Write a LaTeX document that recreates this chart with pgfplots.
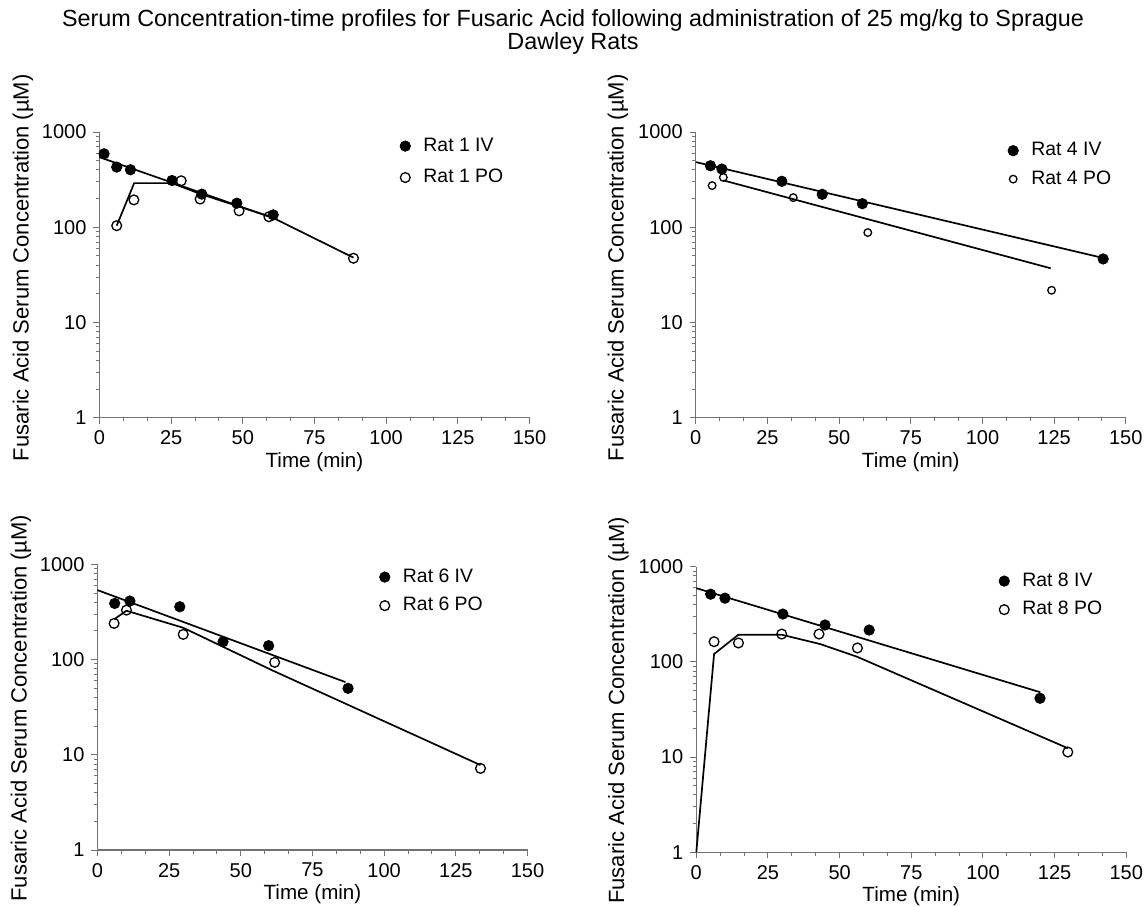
\documentclass[border=0pt]{standalone}
\usepackage{fontspec}
\setmainfont{Liberation Sans}
\usepackage{pgfplots}
\pgfplotsset{compat=1.18}
\definecolor{axisgray}{gray}{0.45}

\pgfplotsset{
  scale only axis, width=215pt, height=142.8pt,
  xmin=0, xmax=150, ymin=1, ymax=1000,
  axis lines=left,
  axis line style={-, draw=axisgray, line width=0.55pt},
  tick align=outside,
  tick style={draw=axisgray, line width=0.5pt},
  major tick length=3pt, minor tick length=1.8pt,
  xtick={0,25,50,75,100,125,150},
  xticklabels={0,25,50,75,100,125,150},
  minor x tick num=2,
  ytick={1,10,100,1000}, yticklabels={1,10,100,1000},
  minor ytick={2,3,4,5,6,7,8,9,20,30,40,50,60,70,80,90,200,300,400,500,600,700,800,900},
  tick label style={font=\fontsize{10}{12}\selectfont, text=black},
  xlabel={Time (min)},
  ylabel={Fusaric Acid Serum Concentration (µM)},
  xlabel style={font=\fontsize{10.3}{12}\selectfont, at={(axis description cs:0.5,0)}, anchor=center, yshift=-22pt},
  legend cell align=left,
  legend style={draw=none, fill=none, inner sep=0pt, outer sep=0pt,
    font=\fontsize{9.7}{11}\selectfont, row sep=3pt, column sep=5pt,
    nodes={inner sep=1.5pt}, anchor=north west},
  clip=false,
}

\begin{document}
\begin{tikzpicture}
\useasboundingbox (0,0) rectangle (573pt,453pt);
\node[font=\fontsize{11.68}{14}\selectfont, anchor=base] at (286.5pt,439.5pt)
  {Serum Concentration-time profiles for Fusaric Acid following administration of 25 mg/kg to Sprague};
\node[font=\fontsize{11.68}{14}\selectfont, anchor=base] at (286.5pt,428pt) {Dawley Rats};

% Panel 1
\begin{semilogyaxis}[at={(49.75pt,244.15pt)}, anchor=south west,
  ylabel style={font=\fontsize{11}{13}\selectfont, at={(axis description cs:-0.178,0.525)}, anchor=center},
  legend style={at={(axis description cs:0.706,0.948)}, xshift=-1.5pt, yshift=6pt, row sep=4.5pt}]
\addplot[no marks, black, line width=0.85pt, forget plot] coordinates {(0,545) (60.6,125)};
\addplot[no marks, black, line width=0.85pt, forget plot] coordinates {(6.0,104) (12.1,291) (25.3,291) (35,225) (49,164) (60,128) (88.6,48)};
\addplot[only marks, mark=*, mark size=2.6pt, black] coordinates {(1.6,591) (6.0,429) (10.8,402) (25.3,310) (35.7,223) (47.9,179) (60.6,135)};
\addplot[only marks, mark=o, mark size=2.45pt, mark options={line width=0.65pt}, black] coordinates {(6.0,104) (12.0,194) (28.5,308) (35.1,198) (48.7,149) (59.1,129) (88.6,47.3)};
\legend{Rat 1 IV, Rat 1 PO}
\end{semilogyaxis}

% Panel 2
\begin{semilogyaxis}[at={(347.9pt,244.15pt)}, anchor=south west,
  ylabel style={font=\fontsize{11}{13}\selectfont, at={(axis description cs:-0.181,0.525)}, anchor=center},
  legend style={at={(axis description cs:0.733,0.932)}, xshift=-1.5pt, yshift=6pt}]
\addplot[no marks, black, line width=0.85pt, forget plot] coordinates {(0,484) (142,47.7)};
\addplot[no marks, black, line width=0.85pt, forget plot] coordinates {(9.6,311) (123.8,37.1)};
\addplot[only marks, mark=*, mark size=2.6pt, black] coordinates {(5.1,443) (9.1,409) (30.0,304) (44.1,222) (58.1,177) (142.1,46.5)};
\addplot[only marks, mark=o, mark size=1.9pt, mark options={line width=0.65pt}, black] coordinates {(5.7,274) (9.6,334) (34.0,205) (60.0,88) (124.1,21.8)};
\legend{Rat 4 IV, Rat 4 PO}
\end{semilogyaxis}

% Panel 3
\begin{semilogyaxis}[at={(48.75pt,28pt)}, anchor=south west,
  ylabel style={font=\fontsize{11}{13}\selectfont, at={(axis description cs:-0.178,0.497)}, anchor=center},
  legend style={at={(axis description cs:0.663,0.953)}, xshift=-1.5pt, yshift=6pt}]
\addplot[no marks, black, line width=0.85pt, forget plot] coordinates {(0,537) (86.5,58)};
\addplot[no marks, black, line width=0.85pt, forget plot] coordinates {(5.8,265) (10.1,326) (29.9,216) (61,77) (133.6,7.8)};
\addplot[only marks, mark=*, mark size=2.6pt, black] coordinates {(6.0,389) (11.3,412) (28.7,359) (43.8,154) (59.7,140) (87.4,49.9)};
\addplot[only marks, mark=o, mark size=2.45pt, mark options={line width=0.65pt}, black] coordinates {(5.8,240) (10.1,331) (29.9,184) (61.8,93.5) (133.6,7.2)};
\legend{Rat 6 IV, Rat 6 PO}
\end{semilogyaxis}

% Panel 4
\begin{semilogyaxis}[at={(348.15pt,26.85pt)}, anchor=south west,
  ylabel style={font=\fontsize{11}{13}\selectfont, at={(axis description cs:-0.181,0.497)}, anchor=center},
  legend style={at={(axis description cs:0.711,0.947)}, xshift=-1.5pt, yshift=6pt}]
\addplot[no marks, black, line width=0.85pt, forget plot] coordinates {(0,595) (120,48)};
\addplot[no marks, black, line width=0.85pt, forget plot] coordinates {(0,1) (6.2,121) (14.7,193) (29.8,193) (43.2,154) (56.0,113.5) (129.6,12.4)};
\addplot[only marks, mark=*, mark size=2.6pt, black] coordinates {(5.0,514) (10.0,467) (30.2,318) (44.9,244) (60.3,216) (119.9,41.5)};
\addplot[only marks, mark=o, mark size=2.45pt, mark options={line width=0.65pt}, black] coordinates {(6.2,163) (14.7,158) (29.8,196) (42.8,196) (56.2,140) (129.6,11.3)};
\legend{Rat 8 IV, Rat 8 PO}
\end{semilogyaxis}
\end{tikzpicture}
\end{document}
